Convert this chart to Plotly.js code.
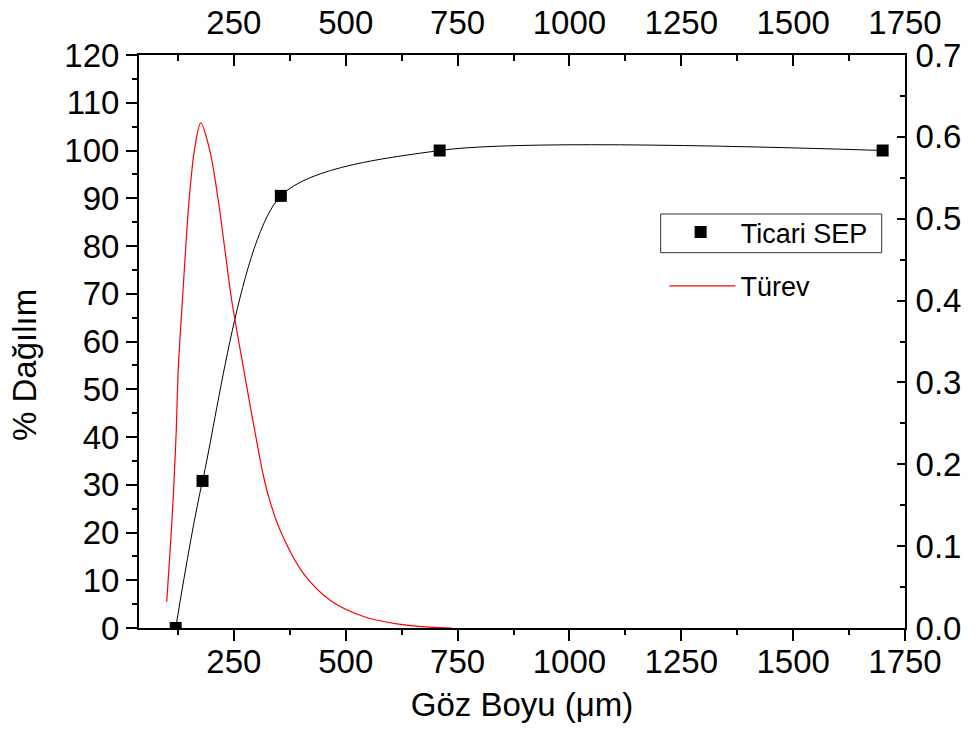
<!DOCTYPE html>
<html>
<head>
<meta charset="utf-8">
<script src="https://cdn.plot.ly/plotly-3.0.1.min.js"></script>
<style>
  html, body { margin: 0; padding: 0; background: #fff; }
  #chart { width: 978px; height: 749px; }
</style>
</head>
<body>
<div id="chart"></div>
<script>
// Ticari SEP cumulative distribution (% Dağılım) vs mesh size (µm)
const sepSize = [120, 180, 355, 710, 1700];
const sepPercent = [0, 30.8, 90.5, 100, 100];

// Türev (derivative) curve (right axis)
const derivSize = [100, 109, 115, 121, 126, 135, 150, 162, 176, 196, 215, 230, 245, 271, 297, 316, 329, 353, 405, 465, 540, 614, 688, 737];
const derivValue = [0.032, 0.108, 0.165, 0.238, 0.319, 0.400, 0.523, 0.584, 0.617, 0.584, 0.523, 0.462, 0.401, 0.319, 0.240, 0.186, 0.158, 0.120, 0.067, 0.034, 0.014, 0.005, 0.001, 0.000];

const xTicks = [250, 500, 750, 1000, 1250, 1500, 1750];

const FONT = 'Liberation Sans, Arial, Helvetica, sans-serif';
const TICK_SIZE = 33;

const traces = [
  {
    x: sepSize, y: sepPercent,
    type: 'scatter', mode: 'lines',
    name: 'Ticari SEP (eğri)',
    line: { color: '#000000', width: 1, shape: 'spline', smoothing: 0.75 },
    xaxis: 'x', yaxis: 'y',
    showlegend: false, hoverinfo: 'skip'
  },
  {
    x: sepSize, y: sepPercent,
    type: 'scatter', mode: 'markers',
    name: 'Ticari SEP',
    marker: { symbol: 'square', size: 12, color: '#000000' },
    xaxis: 'x', yaxis: 'y',
    legend: 'legend'
  },
  {
    x: derivSize, y: derivValue,
    type: 'scatter', mode: 'lines',
    name: 'Türev',
    line: { color: '#ff0000', width: 1.2, shape: 'spline', smoothing: 0.9 },
    xaxis: 'x2', yaxis: 'y2',
    legend: 'legend2'
  }
];

const axisCommon = {
  showgrid: false, zeroline: false, showline: true,
  linecolor: '#000', linewidth: 2,
  tickcolor: '#000', tickwidth: 2,
  tickfont: { family: FONT, size: TICK_SIZE, color: '#000' }
};

const layout = {
  width: 978, height: 749,
  margin: { l: 139, r: 73, t: 55, b: 121, pad: 0 },
  paper_bgcolor: '#ffffff', plot_bgcolor: '#ffffff',
  font: { family: FONT, color: '#000' },
  xaxis: Object.assign({}, axisCommon, {
    range: [38, 1750], tickmode: 'array', tickvals: xTicks, ticktext: xTicks.map(String),
    ticks: 'outside', ticklen: 11, ticklabelstandoff: -8,
    minor: { ticks: 'outside', ticklen: 5, tickwidth: 2, tickcolor: '#000', tick0: 125, dtick: 250 },
    title: { text: 'Göz Boyu (μm)', font: { family: FONT, size: 33, color: '#000' }, standoff: 14 },
    anchor: 'y'
  }),
  xaxis2: Object.assign({}, axisCommon, {
    range: [38, 1750], tickmode: 'array', tickvals: xTicks, ticktext: xTicks.map(String),
    overlaying: 'x', side: 'top', anchor: 'y',
    ticks: 'inside', ticklen: 11, ticklabelstandoff: 6,
    minor: { ticks: 'inside', ticklen: 6, tickwidth: 2, tickcolor: '#000', tick0: 125, dtick: 250 }
  }),
  yaxis: Object.assign({}, axisCommon, {
    range: [0, 120], tick0: 0, dtick: 10,
    ticks: 'outside', ticklen: 11,
    minor: { ticks: 'outside', ticklen: 5, tickwidth: 2, tickcolor: '#000', dtick: 5 },
    anchor: 'x'
  }),
  yaxis2: Object.assign({}, axisCommon, {
    range: [0, 0.7], tick0: 0, dtick: 0.1, tickformat: '.1f',
    overlaying: 'y', side: 'right', anchor: 'x',
    ticks: 'inside', ticklen: 8, ticklabelstandoff: 2,
    minor: { ticks: 'inside', ticklen: 5, tickwidth: 2, tickcolor: '#000', dtick: 0.05 }
  }),
  annotations: [
    {
      text: '% Dağılım', textangle: -90,
      xref: 'paper', yref: 'paper', x: -0.1488, y: 0.459,
      xanchor: 'center', yanchor: 'middle', showarrow: false,
      font: { family: FONT, size: 33, color: '#000' }
    }
  ],
  shapes: [
    {
      type: 'rect', xref: 'paper', yref: 'paper',
      x0: 0.681, x1: 0.9696, y0: 0.655, y1: 0.7225,
      line: { color: '#333', width: 1 }, fillcolor: 'rgba(0,0,0,0)', layer: 'above'
    }
  ],
  legend: {
    x: 0.681, y: 0.733, xanchor: 'left', yanchor: 'top',
    bgcolor: 'rgba(255,255,255,0)', borderwidth: 0,
    font: { family: FONT, size: 27, color: '#000' },
    itemwidth: 70
  },
  legend2: {
    x: 0.686, y: 0.639, xanchor: 'left', yanchor: 'top',
    bgcolor: 'rgba(255,255,255,0)', borderwidth: 0,
    font: { family: FONT, size: 27, color: '#000' },
    itemwidth: 66
  },
  showlegend: true
};

Plotly.newPlot('chart', traces, layout, { staticPlot: true, displayModeBar: false });
</script>
</body>
</html>
